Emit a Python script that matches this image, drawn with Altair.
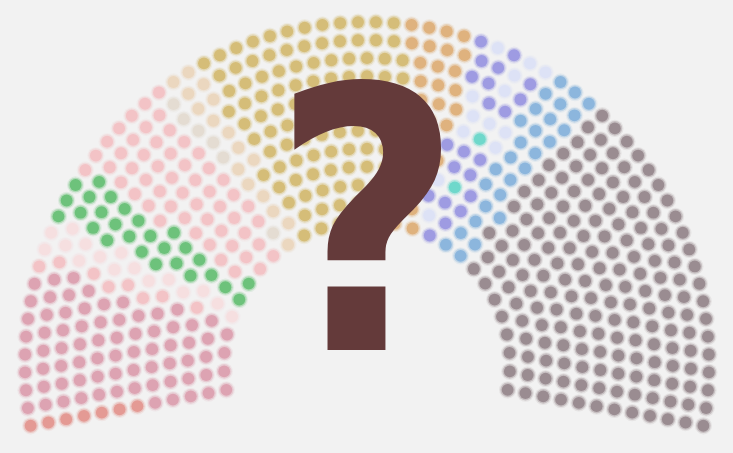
import numpy as np
import pandas as pd
import altair as alt

# ---- data: seat groups in hemicycle order (left -> right) ----
groups = ["salmon", "darkpink", "lightpink1", "vlpink", "green", "lightpink2",
          "greybeige", "beige", "gold", "orange",
          "purple1", "lavender1", "purple2", "teal", "lavender2", "purple3",
          "lavender3", "purple4", "blue", "grey"]
seats = [7, 74, 8, 16, 27, 53,
         6, 16, 102, 34,
         5, 6, 8, 2, 4, 6,
         3, 2, 27, 171]
colors = ["#e49a94", "#dda3b2", "#f3c3c6", "#f6dfe0", "#6dc27b", "#f3c3c6",
          "#e4dcd2", "#ebd7bf", "#d5bd78", "#dfb27e",
          "#9e9be2", "#dde2f6", "#9e9be2", "#6fd8cb", "#dde2f6", "#9e9be2",
          "#dde2f6", "#9e9be2", "#8cb6dd", "#9a8c91"]

# ---- hemicycle layout (12 rows, seats per row proportional to radius) ----
n_rows = 12
r_in, r_out = 143.0, 342.0
span = 200.8          # degrees
start = 190.4         # math angle of first seat (left, slightly below horizontal)
total = sum(seats)
radii = r_in + np.arange(n_rows) * (r_out - r_in) / (n_rows - 1)
exact = total * radii / radii.sum()
per_row = np.floor(exact).astype(int)
rem = total - per_row.sum()
for i in np.argsort(-(exact - per_row))[:rem]:
    per_row[i] += 1

rows_l, ang_l = [], []
for i, n in enumerate(per_row):
    for j in range(n):
        rows_l.append(i)
        ang_l.append(j * span / (n - 1))
rows_a = np.array(rows_l)
ang_a = np.array(ang_l)
order = np.lexsort((-rows_a, ang_a))

party = np.repeat(groups, seats)
seat_df = pd.DataFrame({
    "row": rows_a[order],
    "offset": ang_a[order],
    "party": party,
})
seat_df["radius"] = r_in + seat_df["row"] * (r_out - r_in) / (n_rows - 1)
seat_df["theta"] = np.deg2rad(start - seat_df["offset"])
seat_df["x"] = seat_df["radius"] * np.cos(seat_df["theta"])
seat_df["y"] = seat_df["radius"] * np.sin(seat_df["theta"])

xs = alt.Scale(domain=[-367, 366], nice=False, zero=False)
ys = alt.Scale(domain=[-89, 364], nice=False, zero=False)
cs = alt.Scale(domain=groups, range=colors)

base = alt.Chart(seat_df).encode(
    x=alt.X("x:Q", scale=xs, axis=None),
    y=alt.Y("y:Q", scale=ys, axis=None),
    color=alt.Color("party:N", scale=cs, legend=None),
)

halo2 = base.mark_circle(size=300, opacity=0.14)
halo1 = base.mark_circle(size=215, opacity=0.4)
core = base.mark_circle(size=140, opacity=1)

label_df = pd.DataFrame({"label": ["?"]})
qmark = alt.Chart(label_df).mark_text(
    font="DejaVu Sans Condensed, DejaVu Sans, sans-serif", fontWeight="bold",
    fontSize=365, color="#643a3a", align="center", baseline="alphabetic",
).encode(text="label:N", x=alt.value(367), y=alt.value(350))

chart = alt.layer(halo2, halo1, core, qmark).properties(
    width=733, height=453,
    autosize=alt.AutoSizeParams(type="none"),
    padding=0,
    background="#f2f2f2",
).configure_view(stroke=None)

chart.save("out.html", embed_options={"renderer": "svg", "actions": False})
